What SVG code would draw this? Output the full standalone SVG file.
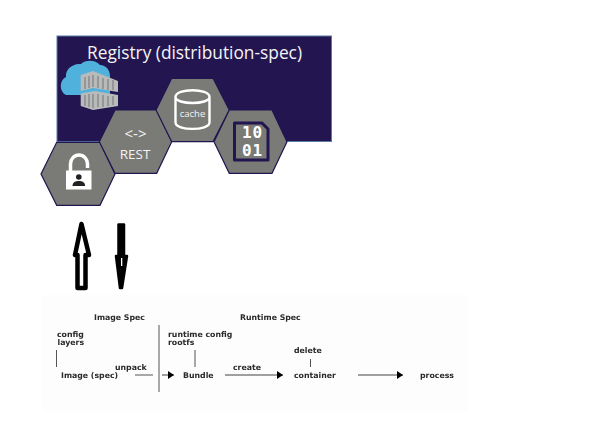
<svg xmlns="http://www.w3.org/2000/svg" width="600" height="430" viewBox="0 0 600 430">
<style>
.hex{fill:#7a7a77;stroke:#1f1650;stroke-width:1.2}
.t{font-family:"Open Sans","Noto Sans",sans-serif;fill:#f4f4f4}
.s{font-family:"DejaVu Sans",sans-serif;font-weight:bold;font-size:7.800px;fill:#2a2a2a}
.l{stroke:#555;stroke-width:1;fill:none}
.a{stroke:#444;stroke-width:1;fill:none;marker-end:url(#ah)}
.b{font-family:"DejaVu Sans Mono",monospace;font-weight:bold;font-size:16px;fill:#fff;letter-spacing:0.800px}
</style>
<defs>
<marker id="ah" markerUnits="userSpaceOnUse" markerWidth="7" markerHeight="8" refX="6" refY="4" orient="auto"><path d="M0,0L6,4L0,8z" fill="#000"/></marker>
<filter id="f" x="-5%" y="-5%" width="110%" height="110%"><feGaussianBlur stdDeviation="0.3"/></filter>
</defs>
<rect width="600" height="430" fill="#fff"/>
<g id="registry">
<rect x="57" y="36" width="274.500" height="105.500" fill="#231550" stroke="#5a7aa8" stroke-width="1"/>
<text class="t" x="194.500" y="58.500" font-size="17.800" text-anchor="middle" textLength="215" lengthAdjust="spacingAndGlyphs">Registry (distribution-spec)</text>
</g>
<g id="cloud-icon">
<path d="M66,95C59,92 59,80 66,77C65,70 72,63 81,64C86,59 96,60 100,65C106,65 110,70 110,76L110,95z" fill="#4fb1dc"/>
<path d="M80.700,75L93,71L118,81V92L93,88L80.700,91z" fill="#b9bbbb"/>
<path d="M80.700,93.500L95,91L118,95V106L93,110L80.700,106z" fill="#b9bbbb"/>
<path d="M85,77V89M89,76V88M93,75V87M98,76V88M103,78V89M108,79V90M113,80V90M85,95V106M89,94V107M93,94V108M98,94V107M103,95V107M108,96V106M113,96V105" stroke="#7c7f80" stroke-width="1.200"/>
</g>
<g id="lock">
<polygon class="hex" points="41,174 56.700,142.300 100,142.300 115,174 100,205.300 56.700,205.300"/>
<path d="M70.500,171V164a8.500,9 0 0 1 17,0V168" fill="none" stroke="#fff" stroke-width="3.500"/>
<rect x="66" y="170.500" width="25.500" height="19" fill="#fff"/>
<circle cx="78.800" cy="177" r="2.800" fill="#222"/>
<path d="M72.500,186c0,-4 3,-5 6.300,-5s6.300,1 6.300,5z" fill="#222"/>
</g>
<g id="rest">
<polygon class="hex" points="99.300,141.700 115,110 156.700,110 171.700,141.700 156.700,173.300 115,173.300"/>
<text class="t" x="135.500" y="139" font-size="15" text-anchor="middle">&lt;-&gt;</text>
<text class="t" x="135" y="159" font-size="13.500" text-anchor="middle">REST</text>
</g>
<g id="cache">
<polygon class="hex" points="156,110 171.700,78.300 213,78.300 229.300,110 213,141.700 171.700,141.700"/>
<path d="M175.500,97V122.500C175.500,131 209.500,131 209.500,122.500V97C209.500,88 175.500,88 175.500,97C175.500,105 209.500,105 209.500,97" fill="none" stroke="#fff" stroke-width="2.400"/>
<text class="t" x="192.500" y="117" font-size="9.500" text-anchor="middle">cache</text>
</g>
<g id="binary">
<polygon class="hex" points="214,141.700 229.300,110 272,110 287,141.700 272,173.300 229.300,173.300"/>
<path d="M234.500,123H262L268,129V160H234.500z" fill="#7a7a77" stroke="#231550" stroke-width="3" stroke-linejoin="round"/>
<text class="b" x="252.500" y="138" text-anchor="middle">10</text>
<text class="b" x="252.500" y="155.500" text-anchor="middle">01</text>
</g>
<g id="connectors">
<path d="M81.500,224L75,255H77.500V288H85.500V255H89z" fill="#fff" stroke="#000" stroke-width="4.500" stroke-linejoin="round"/>
<path d="M81.700,285V252" stroke="#fff" stroke-width="1.500"/>
<path d="M118.500,224.500H124V256H127L122,288L120,288L116,256H118.500z" fill="#000" stroke="#000" stroke-width="2.500" stroke-linejoin="round"/>
<rect x="121" y="258" width="1.300" height="8" fill="#fff"/>
</g>
<g id="specs">
<rect x="42" y="295" width="426" height="116" fill="#fdfdfd"/>
<g filter="url(#f)">
<text class="s" x="94" y="320">Image Spec</text>
<text class="s" x="240" y="320">Runtime Spec</text>
<text class="s" x="57" y="336.500">config</text>
<text class="s" x="57.500" y="345">layers</text>
<text class="s" x="61" y="378">Image (spec)</text>
<text class="s" x="115" y="370">unpack</text>
<text class="s" x="168" y="336.500">runtime config</text>
<text class="s" x="168" y="345">rootfs</text>
<text class="s" x="183" y="378">Bundle</text>
<text class="s" x="233" y="370">create</text>
<text class="s" x="294" y="353">delete</text>
<text class="s" x="294" y="378">container</text>
<text class="s" x="420" y="378">process</text>
<path class="l" d="M56.500,350V367M135,375H153M159,325V392M195,350V367M310.500,359V367"/>
<path class="a" d="M162,375H174"/>
<path class="a" d="M225,375H283"/>
<path class="a" d="M358,375H403"/>
</g>
</g>
</svg>
